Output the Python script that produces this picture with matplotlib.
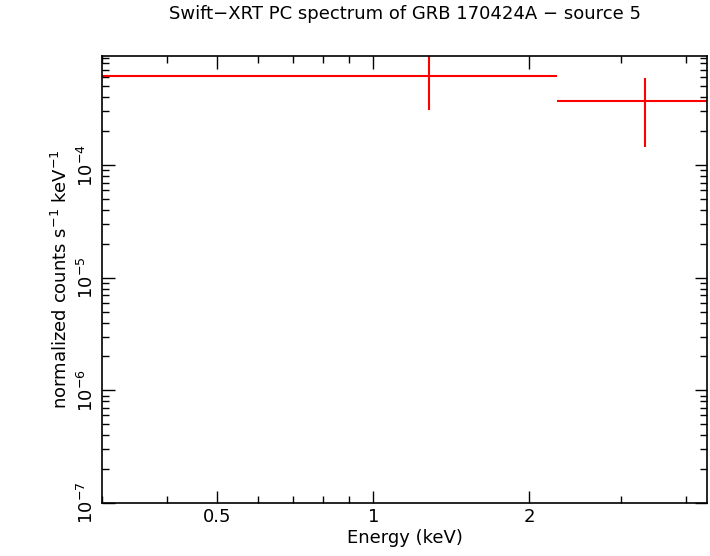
import matplotlib
matplotlib.use("Agg")
import matplotlib.pyplot as plt
from matplotlib.ticker import FixedLocator, NullFormatter, LogLocator

x_center = [1.28, 3.34]
x_low = [0.3, 2.26]
x_high = [2.26, 4.6]
y_val = [6.2e-4, 3.7e-4]
y_low = [3.1e-4, 1.45e-4]
y_high = [1.05e-3, 5.96e-4]

fig = plt.figure(figsize=(7.10, 5.56), dpi=100)
ax = fig.add_axes([102/710, 1-503/556, 605/710, 447/556])
xerr = [[c-l for c, l in zip(x_center, x_low)], [h-c for c, h in zip(x_center, x_high)]]
yerr = [[v-l for v, l in zip(y_val, y_low)], [h-v for v, h in zip(y_val, y_high)]]
ax.errorbar(x_center, y_val, xerr=xerr, yerr=yerr, fmt='none', ecolor='red', elinewidth=1.5, capsize=0)
ax.set_xscale('log'); ax.set_yscale('log')
ax.set_xlim(0.3, 4.4)
ax.set_ylim(1e-7, 9.3e-4)
ax.xaxis.set_major_locator(FixedLocator([0.5, 1, 2]))
ax.set_xticklabels(['0.5', '1', '2'])
ax.xaxis.set_minor_locator(FixedLocator([0.3, 0.4, 0.6, 0.7, 0.8, 0.9, 3, 4]))
ax.xaxis.set_minor_formatter(NullFormatter())
ax.yaxis.set_major_locator(LogLocator(base=10, numticks=10))
ax.yaxis.set_minor_locator(LogLocator(base=10, subs=range(2, 10), numticks=20))
ax.yaxis.set_minor_formatter(NullFormatter())
ax.tick_params(which='both', direction='in', top=True, right=True, labelsize=13)
ax.tick_params(which='major', length=9, width=1)
ax.tick_params(which='minor', length=5, width=1)
for lab in ax.get_yticklabels():
    lab.set_rotation(90); lab.set_va('center')
for s in ax.spines.values():
    s.set_linewidth(1.2)
ax.set_xlabel('Energy (keV)', fontsize=13, labelpad=2)
ax.set_ylabel('normalized counts s$^{-1}$ keV$^{-1}$', fontsize=13)
fig.text(0.57, 0.965, 'Swift\u2212XRT PC spectrum of GRB 170424A \u2212 source 5', ha='center', fontsize=13)
fig.savefig('out.png', dpi=100)
